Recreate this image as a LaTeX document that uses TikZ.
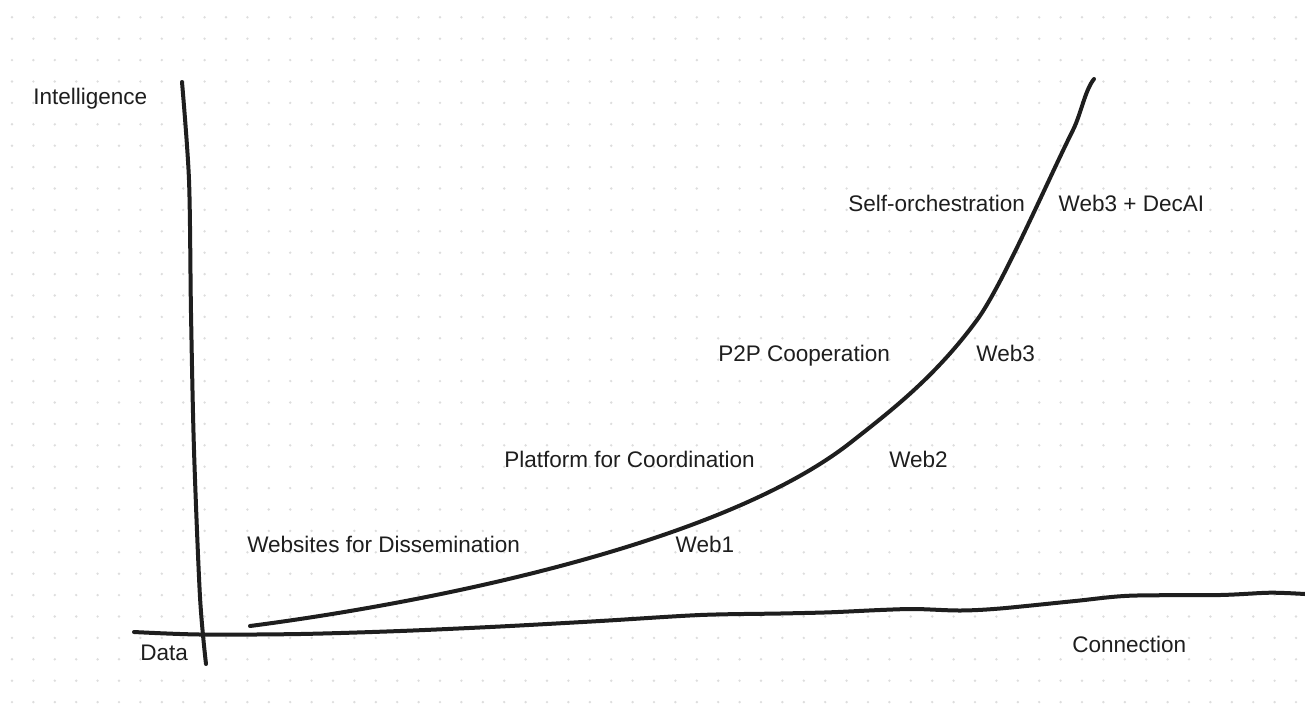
\documentclass[tikz,border=0pt]{standalone}
\usepackage{fontspec}
\setmainfont{Liberation Sans}
\usetikzlibrary{positioning}
\definecolor{InkGray}{HTML}{1E1E1E}
\definecolor{DotGray}{HTML}{DDDDDD}
\tikzstyle{LabelNode}=[anchor=base west, inner sep=0pt, text=InkGray, font=\fontsize{16.9pt}{20pt}\selectfont]
\tikzstyle{SketchLine}=[draw=InkGray, line width=3pt, line cap=round, line join=round]

\begin{document}
\begin{tikzpicture}[x=0.75pt, y=-0.75pt]
      \useasboundingbox (0,0) rectangle (1305,708);
      \fill[white] (0,0) rectangle (1305,708);
      \foreach \i in {0,...,60}
        \foreach \j in {0,...,32}
          \fill[DotGray] (12+21.4*\i, 17.3+21.4*\j) circle (1pt);
      \draw[SketchLine] plot[smooth, tension=0.5] coordinates {(182,82) (189,180) (191,313) (194,450) (200,597) (206,664)};
      \draw[SketchLine] plot[smooth, tension=0.5] coordinates {(134,632) (200,634.5) (300,634) (400,631) (500,626.5) (600,621) (700,615) (780,613.5) (830,612.3) (880,610) (915,609) (960,610.5) (1000,608.5) (1075,601) (1130,595.7) (1220,595) (1270,592.7) (1305,594)};
      \draw[SketchLine] (250,626) .. controls (430,602.6) and (720,544.4) .. (850,443)
        .. controls (892,410) and (935,377) .. (977,320)
        .. controls (1002,286) and (1048,180) .. (1073,130)
        .. controls (1081,114) and (1085,90) .. (1094,79);
      \node[LabelNode] (intel) at (33,104) {Intelligence};
      \node[LabelNode] (data) at (140,660) {Data};
      \node[LabelNode] (conn) at (1072,652) {Connection};
      \node[LabelNode] (dissem) at (247,552) {Websites for Dissemination};
      \node[LabelNode] (web1) [base right=116.5pt of dissem] {Web1};
      \node[LabelNode] (coord) at (504,467) {Platform for Coordination};
      \node[LabelNode] (web2) [base right=100.5pt of coord] {Web2};
      \node[LabelNode] (coop) at (718,361) {P2P Cooperation};
      \node[LabelNode] (web3) [base right=64.5pt of coop] {Web3};
      \node[LabelNode] (orch) at (848,211) {Self-orchestration};
      \node[LabelNode] (decai) [base right=25pt of orch] {Web3 + DecAI};
    \end{tikzpicture}
\end{document}
